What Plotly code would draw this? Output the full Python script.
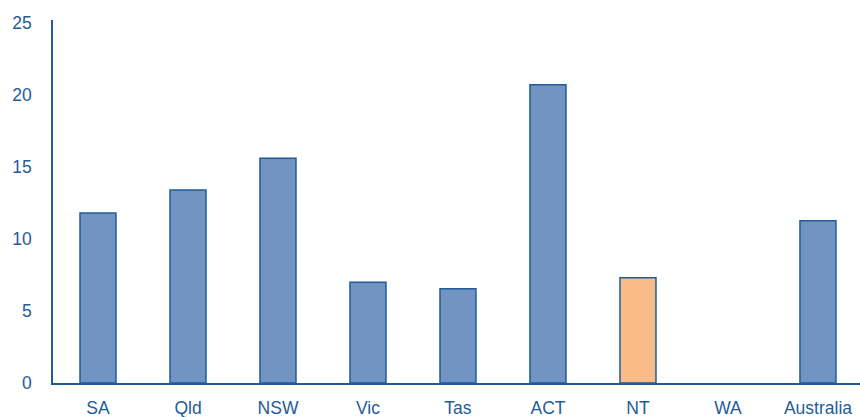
import plotly.graph_objects as go

categories = ["SA", "Qld", "NSW", "Vic", "Tas", "ACT", "NT", "WA", "Australia"]
values = [11.8, 13.4, 15.6, 7.0, 6.55, 20.7, 7.3, None, 11.27]
fill_colors = ["#7294c2", "#7294c2", "#7294c2", "#7294c2", "#7294c2", "#7294c2", "#f9bc87", "#7294c2", "#7294c2"]
y_ticks = [0, 5, 10, 15, 20, 25]

line_col = "#1f5c99"
text_col = "#1f5c99"

fig = go.Figure(go.Bar(
    x=categories, y=values,
    marker=dict(color=fill_colors, line=dict(color=line_col, width=1.5)),
    width=0.4,
))

fig.update_layout(
    width=860, height=417,
    margin=dict(l=53, r=0, t=20, b=34),
    paper_bgcolor="white", plot_bgcolor="white",
    showlegend=False,
    font=dict(family="Liberation Sans, Arial, sans-serif", size=17.5, color=text_col),
)
fig.update_xaxes(
    range=[-0.5, 8.467], showgrid=False, zeroline=False, automargin=False,
    showline=True, linecolor=line_col, linewidth=1.5,
    ticks="outside", ticklen=8, tickcolor="rgba(0,0,0,0)",
    tickfont=dict(size=17.5, color=text_col),
)
fig.update_yaxes(
    range=[0, 25.2], tickvals=y_ticks, showgrid=False, zeroline=False, automargin=False,
    showline=True, linecolor=line_col, linewidth=1.5,
    ticks="outside", ticklen=16, tickcolor="rgba(0,0,0,0)",
    tickfont=dict(size=17.5, color=text_col),
)

fig.write_html("out.html")
